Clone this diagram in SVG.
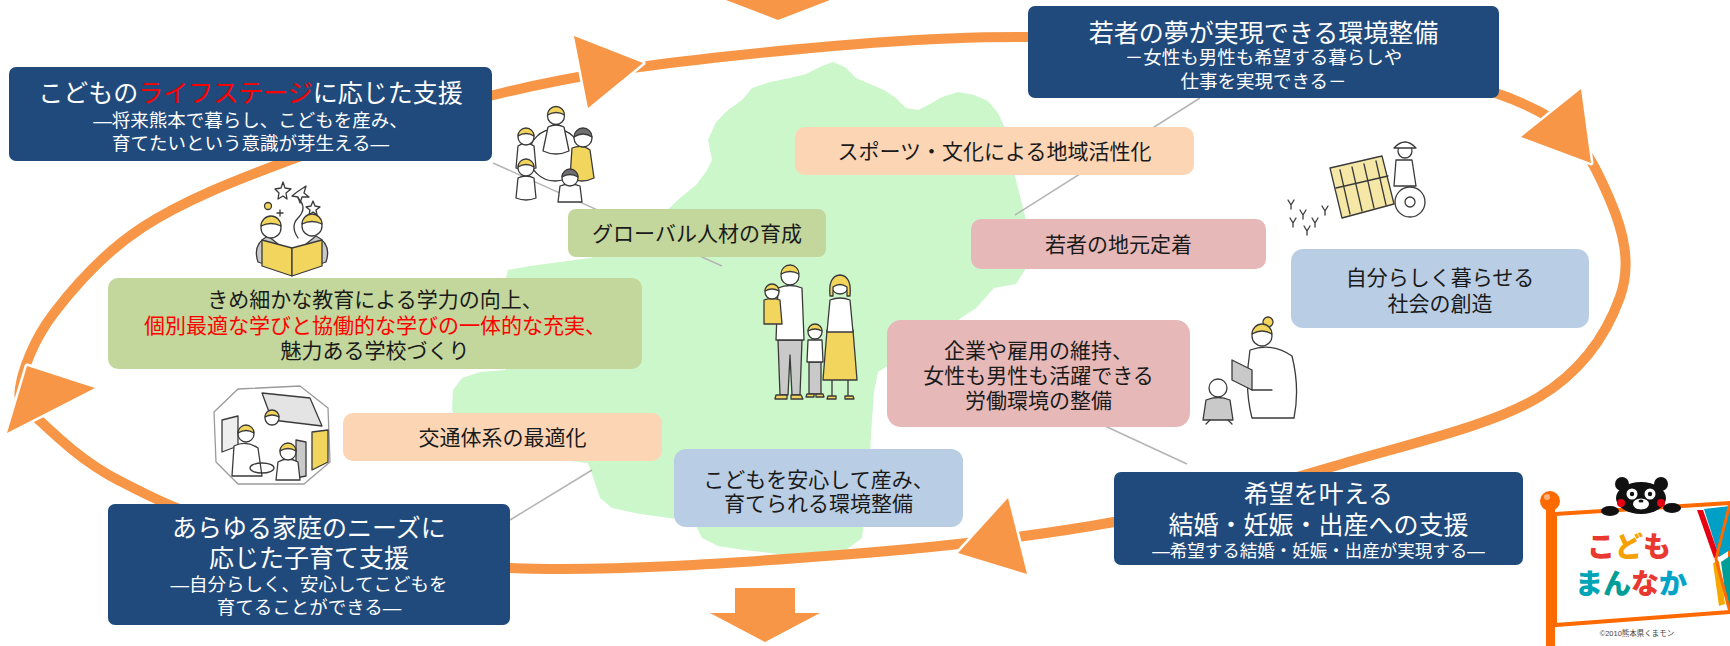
<svg xmlns="http://www.w3.org/2000/svg" width="1730" height="646" viewBox="0 0 1730 646">
<style>
text{font-family:"Liberation Sans","Noto Sans CJK JP",sans-serif;text-anchor:middle}
.nv{fill:#204a7c}
.t{fill:#fff;font-size:25px}
.s{fill:#fff;font-size:18.5px}
.b{fill:#1a1a1a;font-size:21px}
.red{fill:#ff0000}
.pe{fill:#fcd5b5}
.gr{fill:#c3d69b}
.pk{fill:#e6b9b8}
.bl{fill:#b9cde4}
.ring{fill:none;stroke:#f79646;stroke-width:10}
.ah{fill:#f79646;stroke:#fff;stroke-width:5;paint-order:stroke;stroke-linejoin:round}
.blk{fill:#f79646}
.cn{fill:none;stroke:#b4b4b4;stroke-width:1.5}
.ln{fill:none;stroke:#3a3a3a;stroke-width:1.3;stroke-linecap:round;stroke-linejoin:round}
.hy{fill:#f2d55c}
.wh{fill:#fff}
.gy{fill:#c9c9c9}
</style>

<!-- prefecture silhouette -->
<path id="map" fill="#ccf7cb" d="M712,160 L708,140 L716,122 L728,110 L742,100 L752,88 L770,82 L790,78 L806,74 L822,66 L833,62 L845,67 L856,78 L870,84 L884,90 L896,98 L906,108 L918,110 L930,104 L942,97 L958,92 L974,95 L988,101 L998,113 L1005,128 L1008,150 L1014,172 L1020,196 L1026,220 L1030,248 L1026,268 L1016,284 L994,288 L976,308 L958,320 L934,330 L914,346 L894,362 L878,372 L874,392 L872,420 L870,452 L868,480 L866,505 L862,538 L846,550 L822,554 L796,556 L770,553 L744,550 L718,546 L702,538 L694,522 L670,518 L640,514 L612,508 L600,498 L594,480 L588,463 L560,460 L520,456 L486,446 L462,430 L452,410 L453,390 L462,378 L480,372 L505,370 L525,350 L530,300 L505,282 L508,270 L530,266 L560,262 L590,258 L620,250 L645,235 L662,215 L680,198 L696,185 L706,172 Z"/>

<!-- cycle ring and arrows -->
<g id="cycle">
<path class="ring" d="M20,388 C22.5,370.2 33.5,339.8 54,313 C74.5,286.2 103.7,252.5 143,227 C182.3,201.5 229.5,182.5 290,160 C350.5,137.5 432.5,109.3 506,92 C579.5,74.7 644,65.2 731,56 C818,46.8 924.8,36.3 1028,37 C1131.2,37.7 1264.7,47.5 1350,60 C1435.3,72.5 1496.7,88.7 1540,112 C1583.3,135.3 1596.7,169.2 1610,200 C1623.3,230.8 1631.8,264.2 1620,297 C1608.2,329.8 1584.8,369.3 1539,397 C1493.2,424.7 1415.8,442.2 1345,463 C1274.2,483.8 1198.3,506.7 1114,522 C1029.7,537.3 939.7,547.3 839,555 C738.3,562.7 608.2,572.2 510,568 C411.8,563.8 315.3,544.7 250,530 C184.7,515.3 153.2,498.3 118,480 C82.8,461.7 55.3,435.3 39,420 C22.7,404.7 17.5,405.8 20,388 Z"/>
<polygon class="ah" points="574,36 643,63 588,108"/>
<polygon class="ah" points="1581,89 1591,163 1521,137"/>
<polygon class="ah" points="1008,498 1027,574 958,553"/>
<polygon class="ah" points="27,366 95,388 7,433"/>
<polygon class="blk" points="726,0 830,0 778,20"/>
<polygon class="blk" points="735,588 795,588 795,613 820,613 765,642 710,613 735,613"/>
</g>

<!-- leader lines -->
<g id="connectors">
<line class="cn" x1="493" y1="163" x2="722" y2="266"/>
<line class="cn" x1="1200" y1="98" x2="1015" y2="215"/>
<line class="cn" x1="1092" y1="420" x2="1187" y2="464"/>
<line class="cn" x1="510" y1="520" x2="592" y2="470"/>
</g>

<!-- main stage boxes -->
<g id="stage-child">
<rect class="nv" x="9" y="67" width="483" height="94" rx="7"/>
<text x="250.5" y="102"><tspan class="t">こどもの</tspan><tspan class="t red">ライフステージ</tspan><tspan class="t">に応じた支援</tspan><tspan class="s" x="250.5" y="127">—将来熊本で暮らし、こどもを産み、</tspan><tspan class="s" x="250.5" y="150">育てたいという意識が芽生える—</tspan></text>
</g>
<g id="stage-youth">
<rect class="nv" x="1028" y="6" width="471" height="92" rx="7"/>
<text x="1263.5" y="42"><tspan class="t">若者の夢が実現できる環境整備</tspan><tspan class="s" x="1263.5" y="64">－女性も男性も希望する暮らしや</tspan><tspan class="s" x="1263.5" y="88">仕事を実現できる－</tspan></text>
</g>
<g id="stage-marriage">
<rect class="nv" x="1114" y="472" width="409" height="93" rx="7"/>
<text x="1318.5" y="503"><tspan class="t">希望を叶える</tspan><tspan class="t" x="1318.5" y="534">結婚・妊娠・出産への支援</tspan><tspan class="s" x="1318.5" y="557" style="font-size:17.5px">—希望する結婚・妊娠・出産が実現する—</tspan></text>
</g>
<g id="stage-parenting">
<rect class="nv" x="108" y="504" width="402" height="121" rx="7"/>
<text x="309" y="537"><tspan class="t">あらゆる家庭のニーズに</tspan><tspan class="t" x="309" y="567">応じた子育て支援</tspan><tspan class="s" x="309" y="591">—自分らしく、安心してこどもを</tspan><tspan class="s" x="309" y="614">育てることができる—</tspan></text>
</g>

<!-- measure boxes -->
<g id="m-sports">
<rect class="pe" x="795" y="127" width="399" height="48" rx="10"/>
<text class="b" x="994.5" y="159">スポーツ・文化による地域活性化</text>
</g>
<g id="m-global">
<rect class="gr" x="568" y="209" width="258" height="48" rx="8"/>
<text class="b" x="697" y="241">グローバル人材の育成</text>
</g>
<g id="m-local">
<rect class="pk" x="971" y="219" width="295" height="50" rx="10"/>
<text class="b" x="1118.5" y="252">若者の地元定着</text>
</g>
<g id="m-society">
<rect class="bl" x="1291" y="249" width="298" height="79" rx="12"/>
<text class="b" x="1440" y="285">自分らしく暮らせる<tspan x="1440" y="311">社会の創造</tspan></text>
</g>
<g id="m-education">
<rect class="gr" x="108" y="278" width="534" height="91" rx="10"/>
<text class="b" x="375" y="307">きめ細かな教育による学力の向上、<tspan class="red" x="375" y="333">個別最適な学びと協働的な学びの一体的な充実、</tspan><tspan x="375" y="358">魅力ある学校づくり</tspan></text>
</g>
<g id="m-work">
<rect class="pk" x="887" y="320" width="303" height="107" rx="14"/>
<text class="b" x="1038.5" y="358">企業や雇用の維持、<tspan x="1038.5" y="383">女性も男性も活躍できる</tspan><tspan x="1038.5" y="408">労働環境の整備</tspan></text>
</g>
<g id="m-transport">
<rect class="pe" x="343" y="413" width="319" height="48" rx="10"/>
<text class="b" x="502.5" y="445">交通体系の最適化</text>
</g>
<g id="m-birth">
<rect class="bl" x="674" y="449" width="289" height="78" rx="12"/>
<text class="b" x="818.5" y="487">こどもを安心して産み、<tspan x="818.5" y="511">育てられる環境整備</tspan></text>
</g>

<!-- line-art figures -->
<g id="art-kids-play" class="ln">
<circle cx="555" cy="155" r="26"/>
<path class="wh" d="M548,127 q8,-4 16,0 l5,24 q-13,6 -26,0z"/>
<circle class="wh" cx="556" cy="116" r="8.5"/>
<path class="hy" d="M547.5,115 a8.5,8.5 0 0 1 17,0 q-8,-5 -17,0z"/>
<path class="wh" d="M518,146 q8,-6 16,0 l2,22 q-10,4 -20,0z"/>
<circle class="wh" cx="526" cy="137" r="8"/>
<path class="hy" d="M518,136 a8,8 0 0 1 16,0 q-8,-5 -16,0z"/>
<path class="hy" d="M572,148 q10,-4 18,2 l4,28 q-12,6 -24,0z"/>
<circle class="wh" cx="583" cy="138" r="9"/>
<path fill="#707070" d="M574,137 a9,9 0 0 1 18,0 q-9,-6 -18,0z"/>
<path class="wh" d="M518,178 q8,-4 16,0 l2,20 q-10,4 -20,0z"/>
<circle class="wh" cx="526" cy="168" r="8"/>
<path class="hy" d="M518,167 a8,8 0 0 1 16,0 q-8,-5 -16,0z"/>
<path class="wh" d="M560,186 q10,-4 20,0 l2,16 h-24z"/>
<circle class="wh" cx="570" cy="178" r="8"/>
<path fill="#707070" d="M562,177 a8,8 0 0 1 16,0 q-8,-5 -16,0z"/>
</g>

<g id="art-reading" class="ln">
<path d="M283,182 l2,6 6,1 -5,4 1,6 -4,-3 -5,3 1,-6 -4,-4 6,-1z"/>
<path d="M300,190 l6,-4 -2,7 5,4 -7,0 -2,6 -2,-6 -6,-1 5,-4z"/>
<path d="M313,201 l2,5 5,1 -4,3 1,5 -4,-3 -4,3 1,-5 -4,-3 5,-1z"/>
<circle class="hy" cx="268" cy="206" r="3.5"/>
<path d="M280,210 v6 M277,213 h6"/>
<path d="M298,198 q10,10 0,20 q-8,8 0,20"/>
<path class="gy" d="M258,262 q-6,-18 10,-26 l10,8 -8,22z"/>
<path class="gy" d="M326,262 q6,-18 -10,-26 l-10,8 8,22z"/>
<circle class="wh" cx="271" cy="228" r="10"/>
<path class="hy" d="M261,226 a10,10 0 0 1 20,0 q-10,-5 -20,0z"/>
<circle class="wh" cx="312" cy="226" r="10"/>
<path class="hy" d="M302,224 a10,10 0 0 1 20,0 q-10,-5 -20,0z"/>
<path class="hy" d="M262,240 l30,8 v28 l-30,-10z"/>
<path class="hy" d="M292,248 l30,-8 v26 l-30,10z"/>
</g>

<g id="art-bus" class="ln">
<path class="wh" stroke="#9a9a9a" d="M238,389 L300,386 L328,408 L330,462 L304,484 L238,484 L216,462 L214,412Z"/>
<path fill="#e4e4e4" d="M262,393 l48,5 l12,28 l-50,-6z"/>
<path class="hy" d="M312,432 l16,-2 v32 l-16,8z"/>
<path fill="#eeeeee" d="M222,420 l16,-4 v30 l-16,6z"/>
<path class="wh" d="M234,446 q12,-6 24,2 l4,28 h-30z"/>
<circle class="wh" cx="246" cy="434" r="8"/>
<path class="hy" d="M238,433 a8,8 0 0 1 16,0 q-8,-5 -16,0z"/>
<ellipse cx="262" cy="468" rx="12" ry="5"/>
<circle class="wh" cx="272" cy="418" r="7"/>
<path class="hy" d="M265,417 a7,7 0 0 1 14,0 q-7,-4 -14,0z"/>
<path class="gy" d="M296,440 l10,2 v34 l-10,2z"/>
<path class="wh" d="M278,462 q10,-6 20,0 l2,18 h-24z"/>
<circle class="wh" cx="288" cy="452" r="8"/>
<path class="hy" d="M280,451 a8,8 0 0 1 16,0 q-8,-5 -16,0z"/>
</g>

<g id="art-family" class="ln">
<path class="gy" d="M778,340 h24 l-2,55 h-8 l-2,-40 -2,40 h-8z"/>
<path class="hy" d="M776,395 h11 v4 h-12z M791,395 h10 l2,4 h-12z"/>
<path class="wh" d="M778,288 q12,-5 24,0 l2,52 h-28z"/>
<circle class="wh" cx="790" cy="276" r="9"/>
<path class="hy" d="M781,274 a9,9 0 0 1 18,0 q-9,-5 -18,0z"/>
<path class="hy" d="M764,300 q8,-3 16,0 l2,24 h-18z"/>
<circle class="wh" cx="772" cy="292" r="7"/>
<path class="hy" d="M765,291 a7,7 0 0 1 14,0 q-7,-4 -14,0z"/>
<path d="M832,380 v16 M848,380 v16"/>
<path class="hy" d="M828,396 h8 v3 h-9z M845,396 h8 l1,3 h-9z"/>
<path class="hy" d="M827,330 h26 l4,50 h-34z"/>
<path class="wh" d="M830,300 q10,-4 20,0 l3,32 h-26z"/>
<circle class="wh" cx="840" cy="285" r="9"/>
<path class="hy" d="M830,296 q-2,-20 10,-21 q12,1 10,21 h-3 v-9 q-7,-5 -14,0 v9z"/>
<path class="gy" d="M809,362 h12 v32 h-12z"/>
<path class="hy" d="M807,394 h7 v3 h-8z M816,394 h7 l1,3 h-8z"/>
<path class="wh" d="M808,340 h14 l1,22 h-16z"/>
<circle class="wh" cx="815" cy="332" r="7"/>
<path class="hy" d="M808,331 a7,7 0 0 1 14,0 q-7,-4 -14,0z"/>
</g>

<g id="art-farm" class="ln">
<path fill="#f5e7a6" d="M1330,168 l52,-12 l12,48 l-52,14z"/>
<path d="M1340,170 l10,44 M1352,167 l10,44 M1364,164 l10,44 M1376,161 l10,44"/>
<path d="M1336,188 l52,-12"/>
<circle class="wh" cx="1410" cy="202" r="15"/>
<circle cx="1410" cy="202" r="5"/>
<path class="wh" d="M1396,160 h16 l4,26 h-22z"/>
<circle class="wh" cx="1405" cy="151" r="7"/>
<path class="wh" d="M1394,148 q11,-12 22,0z"/>
<path d="M1288,200 l3,5 3,-5 M1291,205 v4 M1300,210 l3,5 3,-5 M1303,215 v4 M1312,218 l3,5 3,-5 M1315,223 v4 M1290,218 l3,5 3,-5 M1293,223 v4 M1304,226 l3,5 3,-5 M1307,231 v4 M1322,206 l3,5 3,-5 M1325,211 v4"/>
</g>

<g id="art-mother" class="ln">
<path class="wh" d="M1250,350 q22,-8 42,6 q8,32 2,62 h-42 q-8,-30 -2,-68z"/>
<circle class="hy" cx="1268" cy="322" r="5"/>
<circle class="wh" cx="1262" cy="336" r="10"/>
<path class="hy" d="M1252,334 a10,10 0 0 1 20,0 q-10,-6 -20,0z"/>
<path class="gy" d="M1232,360 l20,10 v20 l-20,-10z"/>
<path d="M1252,390 h20"/>
<path class="gy" d="M1206,400 q12,-5 24,0 l3,20 h-30z"/>
<circle class="wh" cx="1218" cy="388" r="9"/>
<path d="M1210,420 l-4,4 M1228,420 l4,4"/>
</g>

<!-- campaign flag mark -->
<g id="logo">
<rect x="1546" y="502" width="9" height="144" fill="#ff6a00"/>
<circle cx="1550" cy="501" r="10" fill="#ff6a00"/>
<circle cx="1547" cy="497" r="3" fill="#ffb27a"/>
<path d="M1555,514 L1730,503 L1730,612 L1555,625 Z" fill="#fff" stroke="#ff6a00" stroke-width="4"/>
<path d="M1704,509 L1730,506 L1730,550 L1719,557Z" fill="#00a0c6"/>
<path d="M1697,510 L1703,510 L1719,556 L1714,558Z" fill="#e60012"/>
<path d="M1713,563 L1719,561 L1725,604 L1719,606Z" fill="#f6a800"/>
<path d="M1721,562 L1730,556 L1730,609 L1727,606Z" fill="#009e96"/>
<path d="M1730,503 L1716,559 L1730,612" fill="none" stroke="#ff6a00" stroke-width="3"/>
<text x="1629" y="557" font-size="28" font-weight="900"><tspan fill="#e8382f">こ</tspan><tspan fill="#f6a100">ど</tspan><tspan fill="#e8382f">も</tspan></text>
<text x="1631" y="594" font-size="28" font-weight="900"><tspan fill="#00a4b4">ま</tspan><tspan fill="#009e96">ん</tspan><tspan fill="#e8382f">な</tspan><tspan fill="#00a4c8">か</tspan></text>
<text x="1637" y="636" font-size="7.5" fill="#444">©2010熊本県くまモン</text>
<g id="kumamon">
<circle cx="1622" cy="484" r="7" fill="#111"/>
<circle cx="1661" cy="484" r="7" fill="#111"/>
<ellipse cx="1641" cy="498" rx="25" ry="16" fill="#111"/>
<circle cx="1632" cy="494" r="5.5" fill="#fff"/>
<circle cx="1650" cy="494" r="5.5" fill="#fff"/>
<circle cx="1632" cy="494" r="2.2" fill="#111"/>
<circle cx="1650" cy="494" r="2.2" fill="#111"/>
<ellipse cx="1641" cy="504" rx="8" ry="5.5" fill="#fff"/>
<ellipse cx="1641" cy="501" rx="2.5" ry="1.6" fill="#111"/>
<circle cx="1621" cy="503" r="4" fill="#e60012"/>
<circle cx="1661" cy="503" r="4" fill="#e60012"/>
<ellipse cx="1610" cy="511" rx="9" ry="5" fill="#111"/>
<ellipse cx="1672" cy="508" rx="9" ry="5" fill="#111"/>
</g>
</g>
</svg>
